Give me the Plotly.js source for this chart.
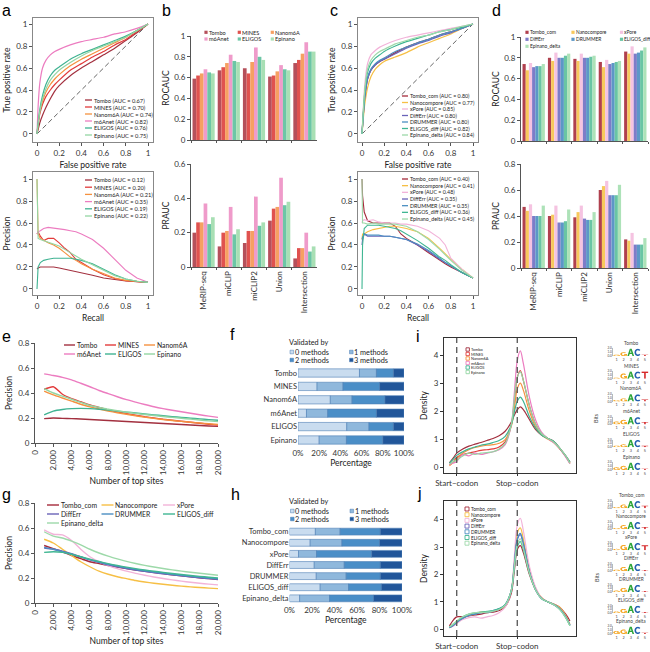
<!DOCTYPE html>
<html><head><meta charset="utf-8">
<script src="https://cdn.plot.ly/plotly-3.0.1.min.js"></script>
<style>html,body{margin:0;padding:0;background:#fff;}#chart{width:650px;height:652px;}</style>
</head><body><div id="chart"></div>
<script>
// ================= DATA =================
const methodsA = ['Tombo','MINES','Nanom6A','m6Anet','ELIGOS','Epinano'];
const methodsB = ['Tombo_com','Nanocompore','xPore','DiffErr','DRUMMER','ELIGOS_diff','Epinano_delta'];
const datasets = ['MeRIP-seq','miCLIP','miCLIP2','Union','Intersection'];

// b: ROCAUC / PRAUC (rows = methodsA, cols = datasets)
const rocaucA = [
  [0.59,0.67,0.69,0.61,0.74],
  [0.62,0.70,0.64,0.62,0.77],
  [0.64,0.74,0.75,0.66,0.83],
  [0.68,0.82,0.89,0.72,0.94],
  [0.65,0.76,0.80,0.68,0.85],
  [0.64,0.75,0.77,0.67,0.85]
];
const praucA = [
  [0.20,0.12,0.14,0.27,0.05],
  [0.26,0.20,0.21,0.34,0.11],
  [0.26,0.21,0.21,0.35,0.11],
  [0.37,0.35,0.41,0.52,0.20],
  [0.25,0.19,0.24,0.36,0.09],
  [0.29,0.22,0.26,0.38,0.12]
];
// d: ROCAUC / PRAUC (rows = methodsB)
const rocaucB = [
  [0.74,0.80,0.79,0.76,0.86],
  [0.68,0.77,0.77,0.71,0.84],
  [0.75,0.85,0.84,0.78,0.91],
  [0.71,0.80,0.80,0.74,0.84],
  [0.72,0.80,0.80,0.75,0.85],
  [0.72,0.82,0.81,0.76,0.87],
  [0.74,0.84,0.82,0.77,0.90]
];
const praucB = [
  [0.47,0.40,0.39,0.60,0.22],
  [0.44,0.41,0.43,0.63,0.21],
  [0.49,0.48,0.48,0.67,0.27],
  [0.40,0.35,0.38,0.56,0.18],
  [0.40,0.35,0.37,0.56,0.18],
  [0.40,0.36,0.37,0.56,0.18],
  [0.48,0.45,0.43,0.64,0.23]
];

// a / c: ROC curves (miCLIP)
const rocGrid = [0,0.01,0.025,0.05,0.08,0.12,0.16,0.2,0.3,0.4,0.5,0.6,0.7,0.8,0.9,1];
const rocTprA = [
  [0,0.04,0.10,0.17,0.24,0.32,0.39,0.44,0.53,0.60,0.66,0.72,0.78,0.85,0.92,1],
  [0,0.08,0.18,0.27,0.34,0.40,0.45,0.49,0.58,0.64,0.70,0.75,0.81,0.86,0.93,1],
  [0,0.09,0.20,0.30,0.38,0.45,0.50,0.54,0.62,0.68,0.73,0.78,0.83,0.88,0.94,1],
  [0,0.25,0.46,0.60,0.67,0.72,0.75,0.77,0.81,0.84,0.86,0.88,0.91,0.93,0.96,1],
  [0,0.10,0.22,0.35,0.45,0.53,0.58,0.61,0.68,0.73,0.77,0.81,0.85,0.89,0.94,1],
  [0,0.09,0.20,0.32,0.41,0.49,0.54,0.58,0.65,0.71,0.76,0.80,0.84,0.88,0.94,1]
];
const rocTprB = [
  [0,0.15,0.33,0.50,0.58,0.63,0.66,0.68,0.74,0.79,0.83,0.86,0.90,0.93,0.96,1],
  [0,0.12,0.27,0.42,0.52,0.59,0.63,0.66,0.70,0.74,0.79,0.83,0.87,0.91,0.96,1],
  [0,0.20,0.45,0.64,0.72,0.76,0.79,0.81,0.85,0.88,0.90,0.92,0.94,0.96,0.98,1],
  [0,0.15,0.33,0.50,0.58,0.63,0.66,0.68,0.73,0.78,0.82,0.85,0.89,0.92,0.96,1],
  [0,0.15,0.34,0.51,0.59,0.64,0.67,0.69,0.75,0.79,0.83,0.86,0.90,0.93,0.96,1],
  [0,0.17,0.38,0.56,0.64,0.69,0.72,0.75,0.80,0.84,0.87,0.90,0.93,0.95,0.97,1],
  [0,0.18,0.40,0.59,0.67,0.72,0.75,0.77,0.82,0.85,0.88,0.90,0.93,0.95,0.98,1]
];

// a / c: PR curves (miCLIP)
const prGridA = [0,0.01,0.03,0.06,0.1,0.15,0.2,0.25,0.3,0.35,0.4,0.5,0.6,0.7,0.8,0.9,1];
const prPrecA = [
  [0.18,0.19,0.20,0.20,0.20,0.20,0.19,0.18,0.17,0.16,0.15,0.125,0.10,0.085,0.072,0.065,0.06],
  [0.50,0.52,0.48,0.44,0.46,0.46,0.42,0.37,0.33,0.27,0.24,0.18,0.13,0.095,0.075,0.065,0.06],
  [1.00,0.50,0.46,0.44,0.42,0.40,0.37,0.33,0.29,0.26,0.23,0.18,0.14,0.10,0.078,0.066,0.06],
  [0.50,0.52,0.53,0.55,0.56,0.555,0.55,0.54,0.53,0.52,0.50,0.45,0.37,0.27,0.17,0.10,0.06],
  [0.00,0.20,0.24,0.26,0.27,0.28,0.28,0.28,0.28,0.27,0.26,0.23,0.18,0.13,0.09,0.07,0.06],
  [1.00,0.46,0.45,0.44,0.43,0.41,0.39,0.36,0.33,0.30,0.27,0.22,0.17,0.12,0.09,0.07,0.06]
];
const prGridB = [0,0.005,0.02,0.05,0.1,0.15,0.2,0.25,0.3,0.35,0.4,0.5,0.6,0.7,0.75,0.8,0.9,1];
const prPrecB = [
  [1.00,0.85,0.70,0.62,0.60,0.60,0.60,0.60,0.57,0.50,0.46,0.40,0.33,0.26,0.23,0.20,0.15,0.10],
  [0.45,0.50,0.50,0.52,0.54,0.55,0.56,0.57,0.57,0.56,0.55,0.52,0.46,0.37,0.32,0.27,0.18,0.10],
  [0.60,0.62,0.63,0.62,0.63,0.61,0.60,0.60,0.60,0.59,0.59,0.57,0.53,0.46,0.40,0.28,0.18,0.10],
  [0.40,0.45,0.50,0.48,0.48,0.48,0.48,0.48,0.47,0.46,0.45,0.40,0.34,0.27,0.24,0.21,0.15,0.10],
  [0.45,0.47,0.50,0.49,0.49,0.49,0.48,0.48,0.47,0.46,0.45,0.41,0.35,0.28,0.24,0.21,0.15,0.10],
  [0.00,0.40,0.55,0.58,0.58,0.58,0.57,0.56,0.55,0.53,0.50,0.44,0.37,0.29,0.26,0.22,0.15,0.10],
  [1.00,0.60,0.60,0.59,0.60,0.59,0.59,0.59,0.59,0.58,0.57,0.52,0.45,0.36,0.31,0.26,0.17,0.10]
];

// e / g: precision vs number of top sites
const topSites = [1000,2000,3000,4000,5000,6000,7000,8000,9000,10000,11000,12000,13000,14000,15000,16000,17000,18000,19000,20000];
const topPrecA = [
  [0.195,0.200,0.197,0.195,0.192,0.188,0.184,0.180,0.176,0.172,0.168,0.164,0.160,0.156,0.152,0.148,0.144,0.140,0.136,0.133],
  [0.430,0.450,0.390,0.355,0.330,0.305,0.285,0.265,0.250,0.235,0.222,0.210,0.200,0.190,0.182,0.174,0.166,0.158,0.150,0.143],
  [0.415,0.385,0.360,0.335,0.310,0.290,0.272,0.256,0.242,0.230,0.218,0.207,0.197,0.188,0.180,0.173,0.166,0.160,0.154,0.148],
  [0.553,0.540,0.525,0.505,0.478,0.450,0.420,0.395,0.370,0.347,0.327,0.308,0.290,0.275,0.262,0.250,0.238,0.226,0.215,0.205],
  [0.225,0.255,0.268,0.275,0.277,0.275,0.270,0.263,0.255,0.247,0.240,0.232,0.225,0.218,0.211,0.205,0.199,0.193,0.187,0.182],
  [0.435,0.400,0.375,0.350,0.325,0.300,0.285,0.270,0.258,0.247,0.237,0.228,0.220,0.212,0.205,0.198,0.191,0.184,0.177,0.171]
];
const topPrecB = [
  [0.460,0.435,0.410,0.380,0.355,0.330,0.315,0.300,0.287,0.275,0.264,0.254,0.244,0.235,0.226,0.218,0.210,0.202,0.195,0.188],
  [0.510,0.480,0.430,0.380,0.330,0.290,0.255,0.230,0.210,0.195,0.180,0.168,0.158,0.150,0.142,0.135,0.129,0.124,0.119,0.115],
  [0.585,0.550,0.545,0.500,0.430,0.370,0.330,0.300,0.275,0.255,0.237,0.222,0.208,0.196,0.185,0.175,0.166,0.158,0.151,0.145],
  [0.440,0.430,0.415,0.395,0.370,0.345,0.325,0.305,0.290,0.276,0.264,0.253,0.243,0.234,0.225,0.217,0.209,0.202,0.195,0.189],
  [0.445,0.430,0.410,0.390,0.368,0.347,0.328,0.310,0.295,0.281,0.269,0.258,0.248,0.239,0.230,0.222,0.214,0.207,0.200,0.194],
  [0.405,0.410,0.405,0.390,0.370,0.350,0.332,0.315,0.300,0.287,0.275,0.264,0.254,0.245,0.236,0.228,0.220,0.213,0.206,0.200],
  [0.570,0.535,0.520,0.495,0.465,0.430,0.400,0.375,0.353,0.333,0.316,0.301,0.288,0.276,0.265,0.255,0.246,0.238,0.230,0.222]
];

// f / h: % of sites validated by 0,1,2,3 methods
const validLabels = ['0 methods','1 methods','2 methods','3 methods'];
const fValid = [
  [58,16,16,10],[18,24.5,34.5,23],[30.5,20.5,31,18],[8,20,46,26],[46,21,23,10],[20,25.7,34.3,20]
];
const hValid = [
  [23,22,35.7,19.3],[18.4,28.2,33.4,20],[8,16,49,27],[22,26.7,32,19.3],[23.8,26.6,30.3,19.3],[27.3,25.2,29.1,18.4],[9,26.6,39.1,25.3]
];

// i / j: metagene density (start codon = 1, stop codon = 2)
const codonPos = [1, 2];
const codonLabels = ['Start\u2212codon','Stop\u2212codon'];
const metaX = [0.88,0.95,1.0,1.1,1.2,1.3,1.4,1.5,1.6,1.7,1.8,1.9,1.95,2.0,2.05,2.1,2.2,2.3,2.4,2.5,2.6,2.7,2.8,2.87];
const densA = [
  [0.15,0.35,0.5,0.65,0.75,0.82,0.88,0.95,1.02,1.12,1.28,1.6,1.85,2.05,2.15,2.05,1.7,1.35,1.15,1.03,0.92,0.68,0.4,0.18],
  [0.08,0.2,0.35,0.45,0.5,0.55,0.6,0.62,0.65,0.72,0.9,1.5,2.3,3.2,3.45,3.1,2.2,1.55,1.2,1.03,0.9,0.66,0.38,0.14],
  [0.05,0.18,0.3,0.5,0.62,0.7,0.75,0.78,0.8,0.85,0.98,1.45,2.05,2.8,3.0,2.75,2.0,1.45,1.15,1.0,0.88,0.66,0.38,0.14],
  [0.1,0.15,0.2,0.45,0.4,0.5,0.45,0.5,0.55,0.62,0.8,1.5,2.6,3.8,4.15,3.7,2.5,1.7,1.25,1.03,0.88,0.66,0.36,0.12],
  [0.15,0.3,0.42,0.55,0.65,0.72,0.78,0.82,0.88,0.95,1.1,1.5,1.95,2.35,2.5,2.35,1.8,1.4,1.15,1.03,0.92,0.68,0.4,0.18],
  [0.1,0.2,0.25,0.4,0.5,0.45,0.5,0.52,0.55,0.65,0.85,1.5,2.4,3.2,3.4,3.1,2.2,1.55,1.2,1.03,0.9,0.68,0.4,0.14]
];
const densB = [
  [0.12,0.35,0.45,0.45,0.48,0.52,0.55,0.6,0.62,0.68,0.82,1.3,2.1,2.9,3.05,2.8,2.0,1.45,1.15,1.0,0.92,0.8,0.55,0.3],
  [0.05,0.15,0.25,0.4,0.5,0.55,0.62,0.6,0.65,0.72,0.85,1.4,2.4,3.5,3.7,3.3,2.2,1.5,1.15,1.0,0.92,0.8,0.5,0.18],
  [0.05,0.12,0.2,0.35,0.42,0.45,0.4,0.45,0.5,0.6,0.8,1.4,2.6,3.8,4.05,3.6,2.3,1.55,1.15,1.0,0.9,0.75,0.45,0.15],
  [0.05,0.15,0.25,0.4,0.5,0.55,0.6,0.6,0.65,0.72,0.88,1.4,2.3,3.25,3.45,3.1,2.1,1.45,1.12,1.0,0.9,0.75,0.45,0.15],
  [0.05,0.15,0.25,0.4,0.5,0.55,0.6,0.62,0.68,0.75,0.9,1.4,2.35,3.3,3.5,3.15,2.1,1.45,1.12,1.0,0.9,0.75,0.45,0.15],
  [0.08,0.2,0.28,0.45,0.55,0.6,0.62,0.65,0.68,0.75,0.9,1.4,2.2,3.0,3.2,2.9,2.05,1.45,1.12,1.0,0.9,0.72,0.42,0.12],
  [0.08,0.2,0.3,0.45,0.55,0.6,0.6,0.62,0.66,0.72,0.88,1.4,2.25,3.1,3.3,2.95,2.05,1.45,1.12,1.0,0.9,0.72,0.42,0.12]
];

// motif logos: information (bits) per position 1..5 and the letter shown there
const logoLetters = ['G','G','A','C','T'];
const logoBitsA = [
  [0.35,1.0,1.95,1.9,0.35],
  [0.3,1.4,1.95,1.9,1.9],
  [0.45,0.85,1.95,1.9,0.55],
  [0.75,1.2,1.95,1.9,0.6],
  [0.4,0.75,1.95,1.9,0.35],
  [0.7,1.1,1.95,1.9,0.3]
];
const logoBitsB = [
  [0.35,1.0,1.95,1.9,0.7],
  [0.35,1.1,1.95,1.9,0.6],
  [0.35,1.4,1.95,1.9,1.3],
  [0.4,1.1,1.95,1.9,0.3],
  [0.4,1.1,1.95,1.9,0.3],
  [0.4,1.1,1.95,1.9,0.3],
  [0.8,1.2,1.95,1.9,0.3]
];
const logoPositions = [1,2,3,4,5];

// ================= STYLE =================
const W = 650, H = 652;
const FONT = 'Lato, "Open Sans", sans-serif';
const lineColA = ['#a3303f','#e23b3b','#f5913f','#ec7cc0','#3fb392','#93d6a3'];
const barColA  = ['#b5505b','#e0524f','#f6a062','#ef9bca','#6cc6a6','#a8dfb4'];
const lineColB = ['#a52a3a','#f6bf45','#f2b3d9','#6a63b8','#4b8fc2','#3fb692','#9dd9a9'];
const barColB  = ['#b0404e','#f7c95c','#f5c3e1','#7d7cc8','#5c97c7','#69c5a4','#ade2b8'];
const valColors = ['#c9dcef','#8fb8dc','#4a8ec7','#21569a'];
const letterCol = {G:'#f5a623', A:'#2ea53a', C:'#2360b0', T:'#d6282a'};

const PX = x => x / W;
const PY = y => 1 - y / H;
const dx = (a, b) => [PX(a), PX(b)];
const dy = (top, bottom) => [PY(bottom), PY(top)];

function ax(o) {
  return Object.assign({showgrid:false, zeroline:false, showline:true, linecolor:'#555', linewidth:1,
    ticks:'outside', ticklen:3, tickwidth:1, tickcolor:'#555',
    tickfont:{size:8, color:'#333', family:FONT}, fixedrange:true}, o);
}
function ttl(t, s, size) { return {text:t, standoff:s, font:{size:size||8.5, color:'#222', family:FONT}}; }

const layout = {
  width:W, height:H, margin:{l:0,r:0,t:0,b:0}, showlegend:false, hovermode:false,
  paper_bgcolor:'#fff', plot_bgcolor:'rgba(0,0,0,0)',
  font:{family:FONT, size:8, color:'#333'},
  barmode:'group', bargap:0.12, bargroupgap:0,
  shapes:[], annotations:[]
};

// a
layout.xaxis  = ax({domain:dx(33,153), anchor:'y', range:[-0.036,1.045], dtick:0.2, mirror:true, linecolor:'#888', title:ttl('False positive rate',5)});
layout.yaxis  = ax({domain:dy(18,142), anchor:'x', range:[-0.073,1.055], dtick:0.2, mirror:true, linecolor:'#888', title:ttl('True positive rate',4)});
layout.xaxis2 = ax({domain:dx(33,153), anchor:'y2', range:[-0.036,1.045], dtick:0.2, mirror:true, linecolor:'#888', title:ttl('Recall',5)});
layout.yaxis2 = ax({domain:dy(172,295), anchor:'x2', range:[-0.055,1.064], dtick:0.2, mirror:true, linecolor:'#888', title:ttl('Precision',4)});
// b
layout.xaxis3 = ax({domain:dx(191,317), anchor:'y3', type:'category', tickson:'boundaries', showticklabels:false, ticklen:2});
layout.yaxis3 = ax({domain:dy(36,140), anchor:'x3', range:[0,1], dtick:0.2, title:ttl('ROCAUC',3)});
layout.xaxis4 = ax({domain:dx(191,317), anchor:'y4', type:'category', tickson:'boundaries', tickangle:-90, ticklen:2});
layout.yaxis4 = ax({domain:dy(164,267), anchor:'x4', range:[0,0.6], dtick:0.2, title:ttl('PRAUC',3)});
// c
layout.xaxis5 = ax({domain:dx(358,478), anchor:'y5', range:[-0.036,1.045], dtick:0.2, mirror:true, linecolor:'#888', title:ttl('False positive rate',5)});
layout.yaxis5 = ax({domain:dy(18,142), anchor:'x5', range:[-0.073,1.055], dtick:0.2, mirror:true, linecolor:'#888', title:ttl('True positive rate',4)});
layout.xaxis6 = ax({domain:dx(358,478), anchor:'y6', range:[-0.036,1.045], dtick:0.2, mirror:true, linecolor:'#888', title:ttl('Recall',5)});
layout.yaxis6 = ax({domain:dy(172,295), anchor:'x6', range:[-0.055,1.064], dtick:0.2, mirror:true, linecolor:'#888', title:ttl('Precision',4)});
// d
layout.xaxis7 = ax({domain:dx(521,648), anchor:'y7', type:'category', tickson:'boundaries', showticklabels:false, ticklen:2});
layout.yaxis7 = ax({domain:dy(37,141), anchor:'x7', range:[0,1], dtick:0.2, title:ttl('ROCAUC',3)});
layout.xaxis8 = ax({domain:dx(521,648), anchor:'y8', type:'category', tickson:'boundaries', tickangle:-90, ticklen:2});
layout.yaxis8 = ax({domain:dy(164,268), anchor:'x8', range:[0,0.8], dtick:0.2, title:ttl('PRAUC',3)});
// e
layout.xaxis9 = ax({domain:dx(35,218), anchor:'y9', range:[0,20000], dtick:2000, tick0:0, tickformat:',d', tickangle:-90, title:ttl('Number of top sites',3)});
layout.yaxis9 = ax({domain:dy(343,443), anchor:'x9', range:[0,0.8], dtick:0.2, title:ttl('Precision',4)});
// f
layout.xaxis10 = ax({domain:dx(298,404), anchor:'y10', range:[0,100], dtick:20, ticksuffix:'%', showline:false, ticks:'', title:ttl('Percentage',1)});
layout.yaxis10 = ax({domain:dy(366.3,446.7), anchor:'x10', type:'category', categoryorder:'array', categoryarray:methodsA, autorange:'reversed', showline:false, ticks:'', tickfont:{size:7.5,color:'#333',family:FONT}});
// g
layout.xaxis11 = ax({domain:dx(35,218), anchor:'y11', range:[0,20000], dtick:2000, tick0:0, tickformat:',d', tickangle:-90, title:ttl('Number of top sites',3)});
layout.yaxis11 = ax({domain:dy(503,603), anchor:'x11', range:[0,0.8], dtick:0.2, title:ttl('Precision',4)});
// h
layout.xaxis12 = ax({domain:dx(289.5,402), anchor:'y12', range:[0,100], dtick:20, ticksuffix:'%', showline:false, ticks:'', title:ttl('Percentage',1)});
layout.yaxis12 = ax({domain:dy(526.1,603.9), anchor:'x12', type:'category', categoryorder:'array', categoryarray:methodsB, autorange:'reversed', showline:false, ticks:'', tickfont:{size:7.5,color:'#333',family:FONT}});
// i
layout.xaxis13 = ax({domain:dx(444,576), anchor:'y13', range:[0.79,2.97], tickvals:codonPos, ticktext:codonLabels, mirror:true, linecolor:'#333', tickcolor:'#333', ticklen:2});
layout.yaxis13 = ax({domain:dy(338,473), anchor:'x13', range:[-0.21,4.61], dtick:1, mirror:true, linecolor:'#333', tickcolor:'#333', title:ttl('Density',4)});
// j
layout.xaxis14 = ax({domain:dx(444,576), anchor:'y14', range:[0.79,2.97], tickvals:codonPos, ticktext:codonLabels, mirror:true, linecolor:'#333', tickcolor:'#333', ticklen:2});
layout.yaxis14 = ax({domain:dy(501,636), anchor:'x14', range:[-0.25,4.68], dtick:1, mirror:true, linecolor:'#333', tickcolor:'#333', title:ttl('Density',4)});

// ================= TRACES =================
const traces = [];
const lineTrace = (x, y, xa, ya, color, w, spline) => ({type:'scatter', mode:'lines', x, y, xaxis:xa, yaxis:ya,
  line:Object.assign({color, width:w}, spline ? {shape:'spline', smoothing:spline} : {})});

methodsA.forEach((m,k) => traces.push(lineTrace(rocGrid, rocTprA[k], 'x', 'y', lineColA[k], 1.2, 0.5)));
methodsA.forEach((m,k) => traces.push(lineTrace(prGridA, prPrecA[k], 'x2', 'y2', lineColA[k], 1.1)));
methodsA.forEach((m,k) => traces.push({type:'bar', x:datasets, y:rocaucA[k], xaxis:'x3', yaxis:'y3', marker:{color:barColA[k]}}));
methodsA.forEach((m,k) => traces.push({type:'bar', x:datasets, y:praucA[k], xaxis:'x4', yaxis:'y4', marker:{color:barColA[k]}}));
methodsB.forEach((m,k) => traces.push(lineTrace(rocGrid, rocTprB[k], 'x5', 'y5', lineColB[k], 1.2, 0.5)));
methodsB.forEach((m,k) => traces.push(lineTrace(prGridB, prPrecB[k], 'x6', 'y6', lineColB[k], 1.1)));
methodsB.forEach((m,k) => traces.push({type:'bar', x:datasets, y:rocaucB[k], xaxis:'x7', yaxis:'y7', marker:{color:barColB[k]}}));
methodsB.forEach((m,k) => traces.push({type:'bar', x:datasets, y:praucB[k], xaxis:'x8', yaxis:'y8', marker:{color:barColB[k]}}));
methodsA.forEach((m,k) => traces.push(lineTrace(topSites, topPrecA[k], 'x9', 'y9', lineColA[k], 1.4, 0.6)));
methodsB.forEach((m,k) => traces.push(lineTrace(topSites, topPrecB[k], 'x11', 'y11', lineColB[k], 1.4, 0.6)));
function stacked(cats, rows, xa, ya, grp) {
  for (let c = 0; c < 4; c++) {
    traces.push({type:'bar', orientation:'h', y:cats, x:rows.map(r => r[c]),
      base:rows.map(r => r.slice(0,c).reduce((s,v) => s + v, 0)),
      xaxis:xa, yaxis:ya, offsetgroup:grp, width:0.62,
      marker:{color:valColors[c], line:{color:'#4f7fb6', width:0.6}}});
  }
}
stacked(methodsA, fValid, 'x10', 'y10', 'f');
stacked(methodsB, hValid, 'x12', 'y12', 'h');
methodsA.forEach((m,k) => traces.push(lineTrace(metaX, densA[k], 'x13', 'y13', lineColA[k], 1.2, 1)));
methodsB.forEach((m,k) => traces.push(lineTrace(metaX, densB[k], 'x14', 'y14', lineColB[k], 1.2, 1)));

// ================= SHAPES & ANNOTATIONS =================
function addText(x, y, text, size, o) {
  layout.annotations.push(Object.assign({xref:'paper', yref:'paper', x:PX(x), y:PY(y), text:text, showarrow:false,
    xanchor:'left', yanchor:'middle', borderpad:0, borderwidth:0,
    font:{size:size, color:'#222', family:FONT}}, o || {}));
}
function addLine(x0, y0, x1, y1, color, width) {
  layout.shapes.push({type:'line', xref:'paper', yref:'paper', x0:PX(x0), y0:PY(y0), x1:PX(x1), y1:PY(y1), line:{color, width}});
}
function addRect(x0, y0, x1, y1, fill, lc, lw) {
  layout.shapes.push({type:'rect', xref:'paper', yref:'paper', x0:PX(x0), y0:PY(y0), x1:PX(x1), y1:PY(y1),
    fillcolor:fill, line:{color:lc, width:lw}});
}

['', '5'].forEach(s => layout.shapes.push({type:'line', xref:'x'+s, yref:'y'+s, x0:0, y0:0, x1:1, y1:1,
  line:{color:'#666', width:1, dash:'5px,3px'}, layer:'below'}));
['13','14'].forEach(s => codonPos.forEach(p => layout.shapes.push({type:'line', xref:'x'+s, yref:'y'+s+' domain',
  x0:p, x1:p, y0:0, y1:1, line:{color:'#555', width:1.3, dash:'6px,4px'}})));

[['a',2,10],['b',162,10],['c',330,10],['d',492,10],['e',2,336],['f',230,334],['i',416,336],['g',2,495],['h',231,495],['j',417,493]]
  .forEach(([t,x,y]) => addText(x, y, t, 16, {font:{size:16, color:'#000', family:'"Liberation Sans", Arial, sans-serif'}}));

methodsA.forEach((m,k) => { const y = 100 + k*7; addLine(85,y,92,y,lineColA[k],1.3);
  addText(94, y, m + ' (AUC = ' + rocaucA[k][1].toFixed(2) + ')', 5.7); });
methodsA.forEach((m,k) => { const y = 180 + k*7.2; addLine(85,y,92,y,lineColA[k],1.3);
  addText(94, y, m + ' (AUC = ' + praucA[k][1].toFixed(2) + ')', 5.7); });
methodsB.forEach((m,k) => { const y = 96 + k*6.5; addLine(402,y,408,y,lineColB[k],1.3);
  addText(409.5, y, m + ' (AUC = ' + rocaucB[k][1].toFixed(2) + ')', 5.3); });
methodsB.forEach((m,k) => { const y = 179 + k*6.67; addLine(402,y,408,y,lineColB[k],1.3);
  addText(409.5, y, m + ' (AUC = ' + praucB[k][1].toFixed(2) + ')', 5.3); });

methodsA.forEach((m,k) => { const x = [206,239.3,272.3][k%3], y = [32.3,39][Math.floor(k/3)];
  addRect(x-1.6,y-1.6,x+1.6,y+1.6,barColA[k],barColA[k],0); addText(x+3, y, m, 5.6); });
methodsB.forEach((m,k) => { const x = [527,573,621.5][k%3], y = [32.3,39.3,46.3][Math.floor(k/3)];
  addRect(x-1.6,y-1.6,x+1.6,y+1.6,barColB[k],barColB[k],0); addText(x+2.8, y, m, 4.9); });

methodsA.forEach((m,k) => { const x = [64,105,144][k%3], y = [345,354][Math.floor(k/3)];
  addLine(x,y,x+11,y,lineColA[k],1.4); addText(x+12.5, y, m, 6.8); });
methodsB.forEach((m,k) => { const x = [47,101.5,163][k%3], y = [505,514,523][Math.floor(k/3)];
  addLine(x,y,x+12,y,lineColB[k],1.4); addText(x+13.5, y, m, 6.8); });

function validLegend(x0, y0) {
  addText(x0, y0, 'Validated by', 7.3);
  validLabels.forEach((t,c) => { const x = c%2 ? x0+61 : x0+1.5, y = y0 + 10 + 8*Math.floor(c/2);
    addRect(x, y-1.8, x+3.6, y+1.8, valColors[c], '#4f7fb6', 0.5); addText(x+4.6, y, t, 7.3); });
}
validLegend(288.5, 342);
validLegend(289, 501);

methodsA.forEach((m,k) => { const y = 349.5 + k*4.5;
  addRect(466,y-1.7,469.4,y+1.7,'rgba(0,0,0,0)',lineColA[k],0.9); addText(471, y, m, 3.9); });
methodsB.forEach((m,k) => { const y = 509 + k*5.7;
  addRect(465,y-2,469,y+2,'rgba(0,0,0,0)',lineColB[k],0.9); addText(471, y, m, 4.7); });

// ---------- sequence logos: letters drawn as glyph paths on small axes (x = position, y = bits)
function arcPts(cx, cy, rx, ry, a0, a1, n) {
  const p = []; for (let i = 0; i <= n; i++) { const a = (a0 + (a1 - a0) * i / n) * Math.PI / 180;
    p.push([cx + rx * Math.cos(a), cy + ry * Math.sin(a)]); } return p;
}
// each glyph = list of shapes; each shape = list of closed sub-paths in a unit box
const GLYPHS = {
  A: [[[[0,0],[0.37,1],[0.63,1],[1,0],[0.76,0],[0.67,0.26],[0.33,0.26],[0.24,0]], [[0.4,0.44],[0.6,0.44],[0.5,0.76]]]],
  T: [[[[0,1],[1,1],[1,0.8],[0.62,0.8],[0.62,0],[0.38,0],[0.38,0.8],[0,0.8]]]],
  C: [[arcPts(0.5,0.5,0.5,0.5,42,318,28).concat(arcPts(0.5,0.5,0.26,0.29,318,42,28))]],
  G: [[arcPts(0.5,0.5,0.5,0.5,42,340,28).concat(arcPts(0.5,0.5,0.26,0.29,340,42,28))],
      [[[0.55,0.36],[0.78,0.36],[0.78,0.06],[1,0.06],[1,0.54],[0.55,0.54]]]]
};
function glyphShapes(ch, pos, y0, h, xa, ya) {
  const x0 = pos - 0.47, w = 0.94;
  GLYPHS[ch].forEach(sub => {
    const path = sub.map(poly => 'M' + poly.map(([u,v]) => (x0 + u*w).toFixed(4) + ',' + (y0 + v*h).toFixed(4)).join('L') + 'Z').join(' ');
    layout.shapes.push({type:'path', xref:xa, yref:ya, path, fillcolor:letterCol[ch], line:{width:0}, layer:'above'});
  });
}
let logoAxis = 15;
function logo(name, T, bits) {
  const n = logoAxis++;
  layout['xaxis'+n] = {domain:dx(613,648.5), anchor:'y'+n, range:[0.5,5.5], tickvals:logoPositions, showline:false, ticks:'',
    showgrid:false, zeroline:false, fixedrange:true, tickfont:{size:3.8, color:'#444', family:FONT}};
  layout['yaxis'+n] = {domain:dy(T+5.7, T+13.3), anchor:'x'+n, range:[0,2], tickvals:[0,1,2], tickformat:'.1f',
    showline:true, linewidth:0.5, linecolor:'#777', ticks:'', showgrid:false, zeroline:false, fixedrange:true,
    tickfont:{size:3.1, color:'#444', family:FONT}};
  traces.push({type:'scatter', mode:'markers', x:[], y:[], xaxis:'x'+n, yaxis:'y'+n});
  logoPositions.forEach((p,i) => glyphShapes(logoLetters[i], p, 0, bits[i], 'x'+n, 'y'+n));
  addText(631, T, name, 4.8, {xanchor:'center', font:{size:4.8, color:'#444', family:FONT}});
}
methodsA.forEach((m,k) => logo(m, 342.7 + k*22.8, logoBitsA[k]));
methodsB.forEach((m,k) => logo(m, 495 + k*20.95, logoBitsB[k]));
addText(596, 418, 'Bits', 5.5, {xanchor:'center', textangle:-90, font:{size:5.5,color:'#444',family:FONT}});
addText(597, 577, 'Bits', 5.5, {xanchor:'center', textangle:-90, font:{size:5.5,color:'#444',family:FONT}});

Plotly.newPlot('chart', traces, layout, {staticPlot:true, displayModeBar:false});
</script></body></html>
